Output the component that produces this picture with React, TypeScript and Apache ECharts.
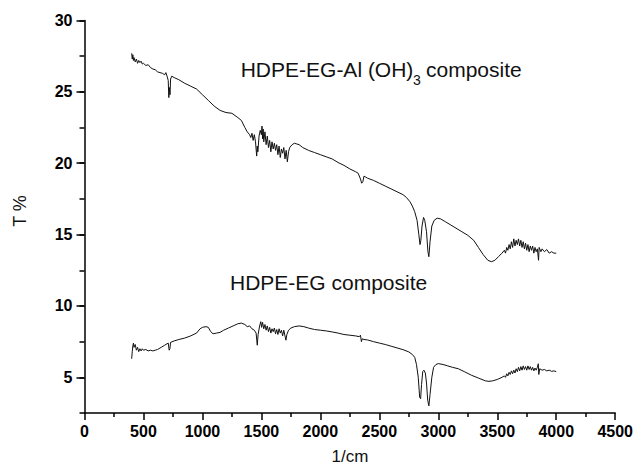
import React, { useEffect, useRef } from "react";
import * as echarts from "echarts";

// Wavenumbers (1/cm) and transmittance (T %)
const alWaveNumbers = [
  400, 405, 410, 415, 420, 430, 440, 450, 460, 470, 480, 490, 500, 520, 540, 560, 580, 600, 620, 640,
  660, 680, 690, 700, 710, 715, 720, 725, 730, 740, 760, 800, 850, 900, 950, 1000, 1050, 1100, 1150, 1200,
  1250, 1300, 1330, 1360, 1380, 1400, 1410, 1420, 1430, 1440, 1450, 1460, 1465, 1470, 1480, 1490, 1500, 1505, 1510, 1515,
  1520, 1530, 1540, 1550, 1560, 1570, 1580, 1590, 1600, 1610, 1620, 1630, 1640, 1650, 1660, 1670, 1680, 1690, 1700, 1710,
  1720, 1730, 1740, 1760, 1780, 1800, 1820, 1850, 1900, 1950, 2000, 2050, 2100, 2150, 2200, 2250, 2300, 2320, 2340, 2350,
  2360, 2370, 2380, 2400, 2450, 2500, 2550, 2600, 2650, 2700, 2730, 2760, 2780, 2800, 2820, 2835, 2845, 2852, 2862, 2875,
  2885, 2900, 2912, 2920, 2930, 2945, 2965, 2990, 3020, 3060, 3100, 3150, 3200, 3250, 3300, 3340, 3380, 3420, 3450, 3480,
  3510, 3540, 3560, 3570, 3580, 3590, 3600, 3610, 3620, 3630, 3640, 3650, 3660, 3670, 3680, 3690, 3700, 3710, 3720, 3730,
  3740, 3750, 3760, 3770, 3780, 3790, 3800, 3810, 3820, 3830, 3840, 3850, 3855, 3870, 3880, 3900, 3920, 3940, 3960, 3980,
  4000,
];
const alTransmittance = [
  27.7, 27.3, 27.6, 27.2, 27.4, 27.1, 27.3, 27.0, 27.2, 27.05, 27.15, 26.95, 27.0, 26.85, 26.9, 26.7, 26.6, 26.55, 26.4, 26.35,
  26.3, 26.2, 26.35, 26.1, 25.8, 24.6, 25.3, 24.8, 25.9, 26.1, 26.0, 25.85, 25.6, 25.4, 25.2, 24.8, 24.4, 24.0, 23.7, 23.55,
  23.5, 23.2, 23.0, 22.5, 22.2, 22.0, 21.8, 22.1, 21.6, 22.0, 21.5, 20.5, 21.2, 20.8, 21.9, 22.3, 22.0, 22.6, 21.7, 22.4,
  21.5, 22.2, 21.3, 21.9, 21.1, 21.6, 20.8, 21.5, 21.0, 21.4, 20.9, 21.3, 20.6, 21.2, 20.4, 21.0, 20.7, 21.1, 20.3, 20.9,
  20.1, 20.8, 21.1, 21.3, 21.4, 21.35, 21.3, 21.1, 20.9, 20.75, 20.6, 20.45, 20.3, 20.05, 19.85, 19.6, 19.4, 19.3, 18.9, 18.6,
  18.7, 19.1, 19.05, 18.95, 18.8, 18.6, 18.4, 18.2, 18.0, 17.8, 17.6, 17.3, 17.0, 16.6, 16.0, 15.0, 14.3, 14.6, 15.6, 16.2,
  16.0, 15.2, 13.8, 13.45, 14.5, 15.6, 16.0, 16.15, 16.1, 15.9, 15.7, 15.45, 15.2, 14.95, 14.6, 14.1, 13.6, 13.2, 13.1, 13.2,
  13.45, 13.7, 13.9, 13.7, 14.1, 13.9, 14.3, 14.0, 14.5, 14.1, 14.7, 14.2, 14.6, 14.3, 14.7, 14.2, 14.6, 14.1, 14.5, 14.0,
  14.4, 13.9, 14.3, 13.8, 14.2, 13.9, 14.2, 13.7, 14.1, 13.8, 14.0, 13.2, 14.1, 13.8, 14.0, 13.8, 13.95, 13.7, 13.8, 13.7,
  13.7,
];

const egWaveNumbers = [
  400, 405, 410, 415, 420, 430, 440, 450, 460, 470, 480, 490, 500, 520, 540, 560, 580, 600, 620, 650,
  680, 700, 710, 718, 724, 730, 760, 800, 850, 900, 950, 980, 1000, 1030, 1050, 1070, 1090, 1120, 1150, 1180,
  1220, 1260, 1300, 1330, 1360, 1380, 1400, 1420, 1440, 1455, 1465, 1472, 1485, 1495, 1502, 1510, 1520, 1530, 1540, 1550,
  1560, 1570, 1580, 1590, 1600, 1610, 1620, 1630, 1640, 1650, 1660, 1670, 1680, 1690, 1700, 1708, 1716, 1730, 1750, 1780,
  1820, 1860, 1900, 1950, 2000, 2050, 2100, 2150, 2200, 2250, 2300, 2330, 2340, 2348, 2355, 2370, 2400, 2450, 2500, 2550,
  2600, 2650, 2700, 2750, 2780, 2800, 2815, 2830, 2842, 2850, 2858, 2868, 2878, 2890, 2900, 2910, 2920, 2930, 2945, 2960,
  2980, 3000, 3040, 3080, 3120, 3170, 3220, 3280, 3340, 3400, 3430, 3460, 3500, 3540, 3560, 3570, 3580, 3590, 3600, 3610,
  3620, 3630, 3640, 3650, 3660, 3670, 3680, 3690, 3700, 3710, 3720, 3730, 3740, 3750, 3760, 3770, 3780, 3790, 3800, 3810,
  3820, 3830, 3840, 3848, 3852, 3860, 3880, 3900, 3920, 3940, 3960, 3980, 4000,
];
const egTransmittance = [
  6.3, 6.8, 7.2, 7.4, 7.1, 7.3, 6.9, 7.1, 6.8, 7.0, 6.85, 7.0, 6.9, 6.95, 6.85, 6.9, 6.85, 6.9, 6.95, 7.1,
  7.25, 7.35, 7.4, 6.9, 7.0, 7.45, 7.55, 7.65, 7.75, 7.9, 8.1, 8.4, 8.5, 8.55, 8.5, 8.2, 8.05, 8.1, 8.15, 8.3,
  8.45, 8.6, 8.75, 8.8, 8.7, 8.55, 8.6, 8.4, 8.3, 8.1, 7.25, 8.0, 8.6, 8.9, 8.5, 8.85, 8.4, 8.7, 8.3, 8.6,
  8.2, 8.5, 8.1, 8.4, 8.2, 8.45, 8.05, 8.35, 8.0, 8.4, 8.1, 8.3, 7.9, 8.3, 7.9, 7.6, 8.0, 8.3, 8.45, 8.55,
  8.6, 8.55, 8.45, 8.35, 8.3, 8.25, 8.18, 8.1, 8.0, 7.95, 7.9, 7.85, 7.95, 7.5, 7.7, 7.65, 7.62, 7.5, 7.4, 7.3,
  7.18, 7.06, 6.94, 6.78, 6.6, 6.4, 5.9, 5.0, 3.6, 3.5, 4.5, 5.4, 5.5, 5.3, 4.6, 3.4, 3.0, 3.8, 5.0, 5.7,
  5.9, 5.96, 5.9, 5.8, 5.7, 5.6, 5.4, 5.15, 4.95, 4.75, 4.72, 4.75, 4.85, 5.0, 5.1, 5.0, 5.25, 5.1, 5.35, 5.2,
  5.45, 5.25, 5.5, 5.3, 5.6, 5.4, 5.7, 5.45, 5.75, 5.5, 5.8, 5.55, 5.75, 5.5, 5.8, 5.55, 5.75, 5.5, 5.7, 5.45,
  5.65, 5.5, 5.7, 5.95, 5.2, 5.6, 5.5, 5.55, 5.45, 5.5, 5.42, 5.45, 5.4,
];

const yMajorTicks = [5, 10, 15, 20, 25, 30];

const FONT = "'Liberation Sans', Arial, sans-serif";

export default function App() {
  const ref = useRef<HTMLDivElement>(null);

  useEffect(() => {
    if (!ref.current) return;
    const chart = echarts.init(ref.current, undefined, { renderer: "svg" });

    const zip = (xs: number[], ys: number[]) => xs.map((x, i) => [x, ys[i]]);

    chart.setOption({
      animation: false,
      backgroundColor: "#ffffff",
      grid: { left: 84.5, right: 19, top: 20.5, bottom: 58, containLabel: false },
      xAxis: {
        type: "value",
        min: 0,
        max: 4500,
        interval: 500,
        axisLine: { show: true, lineStyle: { color: "#000", width: 1.5 } },
        axisTick: { show: true, inside: false, length: 7, lineStyle: { color: "#000", width: 1.5 } },
        minorTick: { show: true, splitNumber: 2, length: 4, lineStyle: { color: "#000", width: 1.5 } },
        splitLine: { show: false },
        minorSplitLine: { show: false },
        axisLabel: {
          color: "#000",
          fontSize: 16,
          fontWeight: "bold",
          fontFamily: FONT,
          margin: 10,
          formatter: (v: number) => String(v),
        },
      },
      yAxis: [
        {
          type: "value",
          min: 2.5,
          max: 30,
          interval: 2.5,
          position: "left",
          axisLine: { show: true, lineStyle: { color: "#000", width: 1.5 } },
          axisTick: { show: true, inside: false, length: 5, lineStyle: { color: "#000", width: 1.5 } },
          splitLine: { show: false },
          axisLabel: { show: false },
        },
        {
          type: "value",
          min: 2.5,
          max: 30,
          position: "left",
          axisLine: { show: false },
          axisTick: { show: true, inside: false, length: 8, customValues: yMajorTicks, lineStyle: { color: "#000", width: 1.5 } },
          splitLine: { show: false },
          axisLabel: {
            show: true,
            customValues: yMajorTicks,
            color: "#000",
            fontSize: 16,
            fontWeight: "bold",
            fontFamily: FONT,
            margin: 12,
          },
        },
      ],
      series: [
        {
          name: "HDPE-EG-Al (OH)3 composite",
          type: "line",
          yAxisIndex: 0,
          data: zip(alWaveNumbers, alTransmittance),
          showSymbol: false,
          symbol: "none",
          lineStyle: { color: "#111", width: 1 },
        },
        {
          name: "HDPE-EG composite",
          type: "line",
          yAxisIndex: 0,
          data: zip(egWaveNumbers, egTransmittance),
          showSymbol: false,
          symbol: "none",
          lineStyle: { color: "#111", width: 1 },
        },
      ],
      graphic: [
        {
          type: "text",
          left: 240.7,
          top: 59,
          style: { text: "HDPE-EG-Al (OH)", fontSize: 21, fontFamily: FONT, fill: "#111" },
        },
        {
          type: "text",
          left: 413,
          top: 73,
          style: { text: "3", fontSize: 14, fontFamily: FONT, fill: "#111" },
        },
        {
          type: "text",
          left: 426,
          top: 59,
          style: { text: "composite", fontSize: 21, fontFamily: FONT, fill: "#111" },
        },
        {
          type: "text",
          left: 230,
          top: 271.5,
          style: { text: "HDPE-EG composite", fontSize: 21, fontFamily: FONT, fill: "#111" },
        },
        {
          type: "text",
          x: 20,
          y: 211,
          rotation: Math.PI / 2,
          style: { text: "T %", fontSize: 18, fontFamily: FONT, fill: "#111", align: "center", verticalAlign: "middle" },
        },
        {
          type: "text",
          x: 350,
          y: 456,
          style: { text: "1/cm", fontSize: 17, fontFamily: FONT, fill: "#111", align: "center", verticalAlign: "middle" },
        },
      ],
    });

    return () => chart.dispose();
  }, []);

  return (
    <div
      ref={ref}
      style={{ position: "fixed", left: 0, top: 0, width: 636, height: 471, background: "#fff" }}
    />
  );
}
